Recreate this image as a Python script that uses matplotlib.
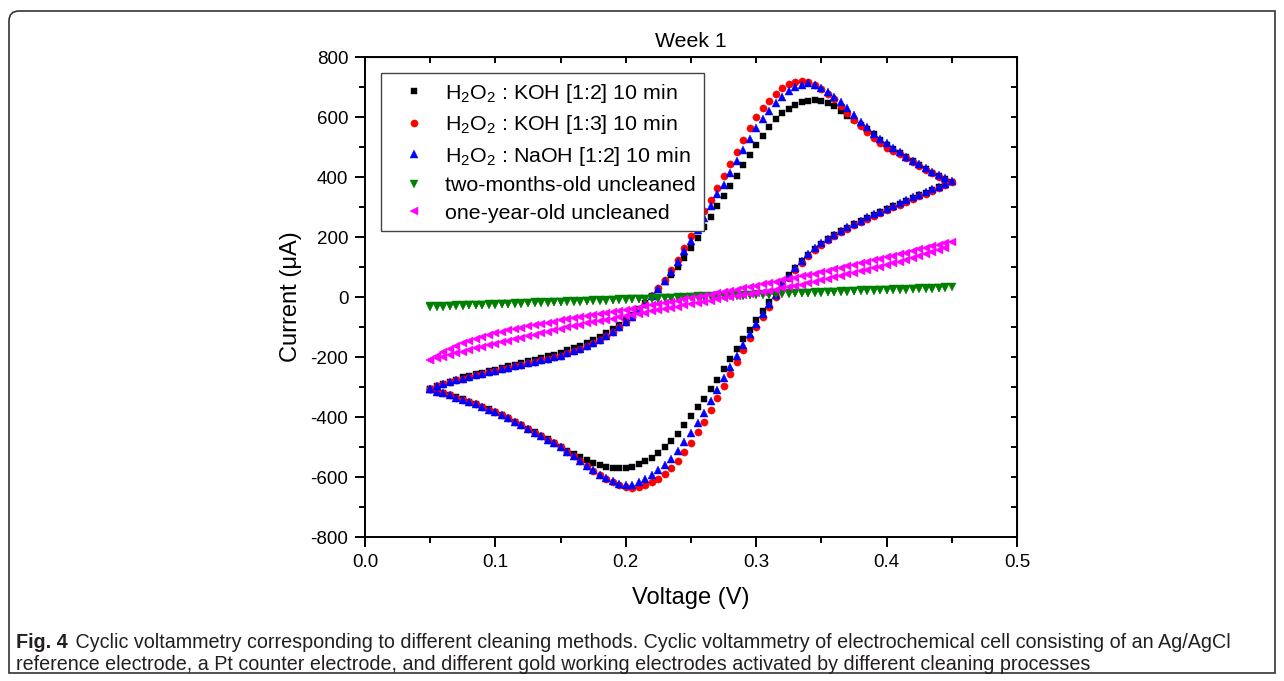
import matplotlib
matplotlib.use('Agg')
import matplotlib.pyplot as plt
from matplotlib.path import Path
from matplotlib.patches import PathPatch
from matplotlib.ticker import MultipleLocator

plt.rcParams['font.family'] = ['Liberation Sans', 'DejaVu Sans']
plt.rcParams['mathtext.fontset'] = 'custom'
plt.rcParams['mathtext.rm'] = 'Liberation Sans'
plt.rcParams['mathtext.it'] = 'Liberation Sans:italic'
plt.rcParams['axes.unicode_minus'] = False

# sweep voltage (V): forward scan 0.05 -> 0.45, the reverse scan comes back
volt_fwd = [0.050, 0.055, 0.060, 0.065, 0.070, 0.075, 0.080, 0.085, 0.090, 0.095,
            0.100, 0.105, 0.110, 0.115, 0.120, 0.125, 0.130, 0.135, 0.140, 0.145,
            0.150, 0.155, 0.160, 0.165, 0.170, 0.175, 0.180, 0.185, 0.190, 0.195,
            0.200, 0.205, 0.210, 0.215, 0.220, 0.225, 0.230, 0.235, 0.240, 0.245,
            0.250, 0.255, 0.260, 0.265, 0.270, 0.275, 0.280, 0.285, 0.290, 0.295,
            0.300, 0.305, 0.310, 0.315, 0.320, 0.325, 0.330, 0.335, 0.340, 0.345,
            0.350, 0.355, 0.360, 0.365, 0.370, 0.375, 0.380, 0.385, 0.390, 0.395,
            0.400, 0.405, 0.410, 0.415, 0.420, 0.425, 0.430, 0.435, 0.440, 0.445,
            0.450]
volt_rev = volt_fwd[-2::-1]

# current (uA)
koh12_fwd = [-305, -297, -289, -282, -275, -268, -262, -257, -252, -247,
             -242, -236, -231, -225, -220, -214, -209, -203, -197, -192,
             -185, -178, -170, -162, -154, -144, -133, -121, -107, -93,
             -77, -60, -41, -20, 2, 25, 49, 73, 100, 130,
             162, 197, 232, 268, 302, 336, 369, 405, 440, 472,
             508, 537, 567, 592, 612, 628, 640, 649, 655, 656,
             653, 647, 636, 620, 605, 590, 575, 560, 542, 525,
             508, 494, 480, 466, 453, 440, 427, 415, 404, 394,
             385]
koh12_rev = [375, 366, 357, 348, 339, 330, 321, 311, 302, 293,
             283, 274, 264, 253, 242, 231, 219, 206, 192, 177,
             160, 141, 120, 98, 73, 46, 16, -15, -46, -77,
             -109, -141, -174, -207, -241, -275, -308, -339, -367, -398,
             -427, -455, -479, -501, -520, -535, -548, -558, -565, -570,
             -571, -570, -567, -561, -553, -544, -534, -524, -512, -499,
             -487, -474, -462, -451, -439, -427, -415, -403, -393, -383,
             -374, -365, -357, -349, -341, -334, -327, -320, -314, -308]

koh13_fwd = [-305, -298, -291, -284, -278, -272, -266, -261, -256, -251,
             -246, -241, -236, -231, -226, -221, -216, -211, -206, -201,
             -195, -188, -180, -172, -163, -153, -142, -130, -116, -100,
             -82, -65, -45, -22, 3, 30, 58, 89, 125, 165,
             205, 245, 286, 325, 364, 405, 445, 485, 525, 565,
             600, 630, 655, 677, 696, 709, 717, 720, 718, 708,
             694, 678, 660, 637, 612, 590, 570, 550, 531, 513,
             497, 487, 476, 463, 450, 437, 424, 412, 401, 391,
             382]
koh13_rev = [372, 363, 354, 345, 336, 327, 318, 308, 299, 290,
             280, 271, 261, 250, 239, 228, 216, 203, 189, 174,
             157, 137, 115, 90, 62, 32, 0, -33, -66, -100,
             -137, -176, -215, -255, -295, -337, -378, -417, -450, -486,
             -517, -545, -570, -590, -605, -617, -627, -634, -637, -633,
             -626, -616, -605, -593, -579, -563, -547, -531, -515, -501,
             -488, -475, -463, -452, -440, -428, -416, -404, -394, -384,
             -375, -366, -358, -350, -342, -335, -328, -321, -315, -308]

naoh12_fwd = [-305, -298, -290, -284, -278, -272, -266, -261, -256, -251,
              -246, -241, -236, -231, -226, -221, -216, -211, -206, -201,
              -195, -188, -180, -172, -163, -153, -142, -130, -116, -100,
              -82, -65, -45, -22, 2, 28, 55, 85, 118, 153,
              188, 225, 265, 305, 342, 375, 415, 455, 490, 528,
              562, 592, 620, 647, 668, 686, 701, 708, 712, 708,
              697, 684, 668, 650, 630, 607, 585, 566, 545, 527,
              513, 497, 482, 468, 455, 442, 429, 417, 406, 396,
              387]
naoh12_rev = [377, 368, 359, 350, 341, 332, 323, 313, 304, 295,
              285, 276, 266, 255, 244, 233, 221, 208, 194, 179,
              162, 142, 120, 96, 68, 38, 8, -23, -55, -89,
              -124, -160, -196, -233, -270, -309, -348, -385, -419, -452,
              -484, -513, -540, -560, -578, -594, -606, -617, -625, -628,
              -623, -614, -604, -592, -578, -562, -546, -531, -515, -501,
              -488, -475, -463, -452, -440, -428, -416, -404, -394, -384,
              -375, -366, -358, -350, -342, -335, -328, -321, -315, -308]

two_month_fwd = [-31, -30, -30, -29, -28, -27, -26, -26, -25, -24,
                 -23, -22, -22, -21, -20, -19, -18, -18, -17, -16,
                 -15, -14, -14, -13, -12, -11, -10, -10, -9, -8,
                 -7, -6, -6, -5, -4, -3, -2, -2, -1, 0,
                 1, 2, 2, 3, 4, 5, 6, 6, 7, 8,
                 9, 10, 10, 11, 12, 13, 14, 14, 15, 16,
                 17, 18, 18, 19, 20, 21, 22, 22, 23, 24,
                 25, 26, 26, 27, 28, 29, 30, 30, 31, 32,
                 33]
two_month_rev = [30, 29, 28, 28, 27, 26, 25, 24, 24, 23,
                 22, 21, 20, 20, 19, 18, 17, 16, 16, 15,
                 14, 13, 12, 12, 11, 10, 9, 8, 8, 7,
                 6, 5, 4, 4, 3, 2, 1, 0, 0, -1,
                 -2, -3, -4, -4, -5, -6, -7, -8, -8, -9,
                 -10, -11, -12, -12, -13, -14, -15, -16, -16, -17,
                 -18, -19, -20, -20, -21, -22, -23, -24, -24, -25,
                 -26, -27, -28, -28, -29, -30, -31, -32, -32, -33]

one_year_fwd = [-210, -196, -184, -173, -163, -154, -146, -139, -132, -126,
                -120, -115, -110, -106, -102, -98, -94, -90, -86, -82,
                -78, -74, -71, -67, -64, -60, -57, -53, -50, -46,
                -43, -39, -35, -31, -28, -24, -20, -16, -12, -8,
                -4, 0, 4, 8, 12, 16, 21, 25, 29, 33,
                38, 42, 47, 51, 56, 60, 65, 69, 73, 78,
                83, 88, 93, 98, 103, 108, 113, 118, 123, 128,
                133, 138, 143, 148, 153, 159, 164, 169, 174, 179,
                184]
one_year_rev = [163, 156, 149, 142, 136, 130, 124, 118, 112, 106,
                101, 96, 91, 86, 81, 76, 71, 66, 61, 56,
                51, 46, 41, 37, 33, 29, 25, 21, 17, 13,
                9, 6, 3, 0, -4, -8, -12, -16, -20, -24,
                -28, -32, -36, -40, -44, -48, -52, -56, -60, -64,
                -68, -72, -76, -80, -84, -88, -92, -97, -101, -106,
                -110, -115, -120, -125, -130, -135, -140, -145, -150, -155,
                -160, -165, -171, -176, -182, -188, -193, -199, -204, -209]

labels = [r'H$_2$O$_2$ : KOH [1:2] 10 min',
          r'H$_2$O$_2$ : KOH [1:3] 10 min',
          r'H$_2$O$_2$ : NaOH [1:2] 10 min',
          'two-months-old uncleaned',
          'one-year-old uncleaned']
colors = ['#000000', '#ff0000', '#0000ff', '#008000', '#ff00ff']
markers = ['s', 'o', '^', 'v', '<']
sizes = [4.6, 5.2, 5.8, 5.8, 5.8]

series = [(koh12_fwd, koh12_rev), (koh13_fwd, koh13_rev), (naoh12_fwd, naoh12_rev),
          (two_month_fwd, two_month_rev), (one_year_fwd, one_year_rev)]

W, H = 1284, 681
fig = plt.figure(figsize=(W / 100, H / 100), dpi=100)
ax = fig.add_axes([365 / W, 1 - 537 / H, 652 / W, 480 / H])

for (fwd, rev), lab, c, m, s in zip(series, labels, colors, markers, sizes):
    ax.plot(volt_fwd + volt_rev, fwd + rev, ls='none', marker=m, ms=s,
            color=c, mec=c, mew=0.3, label=lab)

ax.set_xlim(0, 0.5)
ax.set_ylim(-800, 800)
ax.xaxis.set_major_locator(MultipleLocator(0.1))
ax.xaxis.set_minor_locator(MultipleLocator(0.05))
ax.yaxis.set_major_locator(MultipleLocator(200))
ax.yaxis.set_minor_locator(MultipleLocator(100))
ax.tick_params(which='major', direction='out', length=7, width=1.4, labelsize=13.5, pad=5)
ax.tick_params(which='minor', direction='out', length=4.5, width=1.4)
ax.xaxis.set_major_formatter(matplotlib.ticker.FormatStrFormatter('%.1f'))
for sp in ax.spines.values():
    sp.set_linewidth(1.4)

# mirrored ticks on top/right pointing inward (Origin style)
top = ax.secondary_xaxis('top')
top.xaxis.set_major_locator(MultipleLocator(0.05))
top.tick_params(direction='in', length=4.5, width=1.4, labeltop=False)
right = ax.secondary_yaxis('right')
right.yaxis.set_major_locator(MultipleLocator(100))
right.tick_params(direction='in', length=4.5, width=1.4, labelright=False)

ax.set_title('Week 1', fontsize=15.3, pad=7)
ax.set_xlabel('Voltage (V)', fontsize=17, labelpad=12)
ax.set_ylabel('Current (μA)', fontsize=17, labelpad=6)

leg = ax.legend(loc='upper left', bbox_to_anchor=(16 / 652, 1 - 16 / 480),
                borderaxespad=0, fontsize=15.4, numpoints=1, handlelength=2.28,
                handletextpad=0.31, borderpad=0.4, labelspacing=0.40,
                fancybox=False, framealpha=1, edgecolor='#444444')
leg.get_frame().set_linewidth(1.0)

# outer frame with a rounded top-left corner
L, T, R, B, rad = 9, 11, 1275, 673, 10
verts = [(L, B), (L, T + rad), (L, T), (L + rad, T), (R, T), (R, B), (L, B)]
verts = [(x / W, 1 - y / H) for x, y in verts]
codes = [Path.MOVETO, Path.LINETO, Path.CURVE3, Path.CURVE3, Path.LINETO,
         Path.LINETO, Path.CLOSEPOLY]
fig.patches.append(PathPatch(Path(verts, codes), transform=fig.transFigure,
                             fill=False, edgecolor='#333333', lw=1.2))

# caption
cap_fam = ['Liberation Sans Narrow', 'DejaVu Sans Condensed', 'Liberation Sans']
cap_size = 12.5
bold = fig.text(16 / W, 1 - 642 / H, 'Fig. 4', fontsize=cap_size, fontweight='bold',
                family=cap_fam, va='center', color='#231f20')
rest = fig.text(0, 0, '', fontsize=cap_size, family=cap_fam, va='center', color='#231f20')
line2 = fig.text(16 / W, 1 - 665 / H,
                 'reference electrode, a Pt counter electrode, and different gold working '
                 'electrodes activated by different cleaning processes',
                 fontsize=cap_size, family=cap_fam, va='center', color='#231f20')
rest_txt = (' Cyclic voltammetry corresponding to different cleaning methods. Cyclic '
            'voltammetry of electrochemical cell consisting of an Ag/AgCl')
rest.set_text(rest_txt)

# fit the first caption line to the width it has in the figure
r = fig.canvas.get_renderer()
for _ in range(3):
    bb = bold.get_window_extent(r)
    rest.set_position(((bb.x1 + 2) / W, 1 - 642 / H))
    w = rest.get_window_extent(r).x1 - bb.x0
    cap_size *= 1216 / w
    for t in (bold, rest, line2):
        t.set_fontsize(cap_size)
bb = bold.get_window_extent(r)
rest.set_position(((bb.x1 + 2) / W, 1 - 642 / H))

fig.savefig('out.png', dpi=100)
